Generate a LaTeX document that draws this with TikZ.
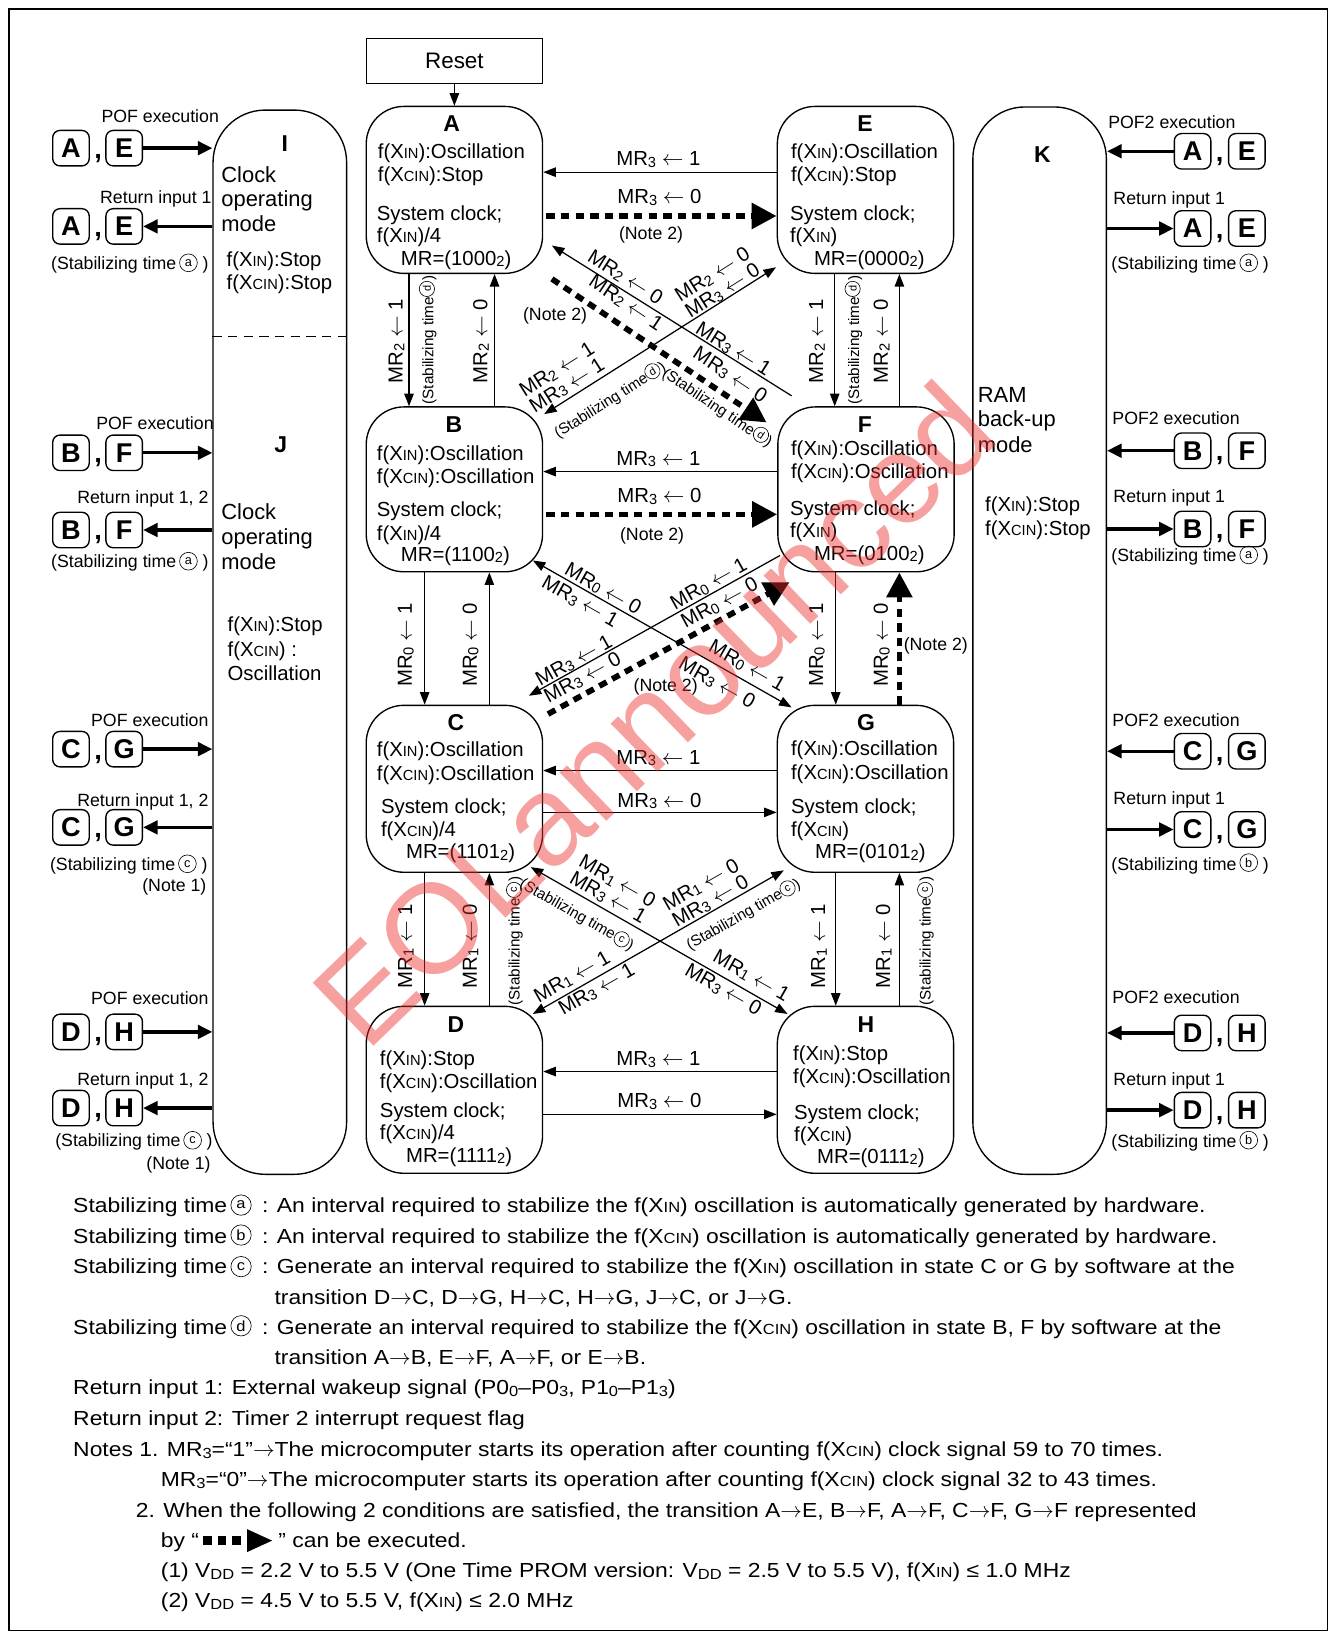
\documentclass[tikz,border=0pt]{standalone}
\usepackage{fontspec}
\setmainfont{Liberation Sans}
\newfontfamily\nfont{Liberation Sans}[FakeStretch=1.125]
\usetikzlibrary{arrows.meta}
\definecolor{wmred}{RGB}{235,45,45}
\makeatletter
\newcommand\sm[1]{{\@tempdima=\f@size pt\@tempdima=0.72\@tempdima\fontsize{\strip@pt\@tempdima}{\strip@pt\@tempdima}\selectfont #1}}
\newcommand\cir[1]{\@tempdima=\f@size pt\edef\cirsz{\the\@tempdima}\tikz[baseline={([yshift=-0.17*\cirsz]cirn.base)}]\node[reset cm,draw,solid,circle,anchor=center,inner sep=0pt,minimum size=1.0*\cirsz,line width=0.6pt,font={}](cirn){\sm{#1}};}
\makeatother
\newcommand\sbs[1]{\raisebox{-0.08em}{\sm{#1}}}
\newcommand\XIN{X\sm{IN}}
\newcommand\XCIN{X\sm{CIN}}
\newcommand\la{\ensuremath{\leftarrow}}
\newcommand\ra{\ensuremath{\rightarrow}}
\newcommand\fsz[1]{\fontsize{#1}{#1}\selectfont}
\newcommand\dashicon{\tikz[baseline=-0.33em]{\draw[solid,line width=8pt,dash pattern=on 8pt off 6pt] (0pt,0pt) -- (36pt,0pt); \fill (42pt,11pt) -- (66pt,0pt) -- (42pt,-11pt) -- cycle;}}
\newcommand\lpair[4]{%
 \node[lbox] (#1a) at (68,#2) {#3};
 \node[commast] (#1c) at (94,#2+9.5) {,};
 \node[lbox] (#1b) at (119,#2) {#4};}
\newcommand\rpair[4]{%
 \node[lbox] (#1a) at (1143,#2) {#3};
 \node[commast] (#1c) at (1169,#2+9.5) {,};
 \node[lbox] (#1b) at (1195,#2) {#4};}
\begin{document}
\begin{tikzpicture}[x=1pt,y=-1pt,font=\fsz{19.5},
 stbox/.style={draw,rounded corners=36pt,minimum width=169pt,minimum height=160pt,line width=1.3pt,inner sep=0pt},
 modebox/.style={draw,rounded corners=50pt,minimum width=128pt,line width=1.3pt,inner sep=0pt},
 head/.style={font=\bfseries\fsz{22},inner sep=0pt},
 txt/.style={anchor=base west,inner sep=0pt},
 txtr/.style={anchor=base east,inner sep=0pt},
 note/.style={anchor=base west,inner sep=0pt,font=\nfont\fsz{19.5}},
 sidef/.style={font=\fsz{17}},
 bigf/.style={font=\fsz{21}},
 arr/.style={line width=1.2pt,-{Triangle[length=12pt,width=9pt]}},
 arrb/.style={line width=1.2pt,{Triangle[length=12pt,width=9pt]}-{Triangle[length=12pt,width=9pt]}},
 darr/.style={line width=5.5pt,dash pattern=on 8pt off 6pt,-{Triangle[length=24pt,width=24pt]}},
 sarr/.style={line width=3.2pt,-{Triangle[length=14pt,width=13pt]}},
 lbox/.style={draw,rounded corners=7pt,minimum width=35pt,minimum height=34pt,inner sep=0pt,line width=1.3pt,font=\bfseries\fsz{26}},
 commast/.style={font=\bfseries\fsz{26},inner sep=0pt,anchor=base},
 lab/.style={inner sep=0pt},
 stk/.style={inner sep=0pt,align=left,font=\fontsize{19.5}{18}\selectfont},
 vlab/.style={inner sep=0pt,rotate=90},
 stablab/.style={inner sep=0pt,font=\fsz{14.6}},
]
\useasboundingbox (0,0) rectangle (1280,1568);
\draw[line width=1.3pt] (8.5,8.5) rectangle (1272,1563);

% ---------- mode columns ----------
\node[modebox,minimum height=1020pt] (IJ) at (268.2,615.5) {};
\draw[line width=1.2pt,dash pattern=on 9pt off 6pt] ([yshift=293pt]IJ.west) -- ([yshift=293pt]IJ.east);
\node[modebox,minimum height=1023pt] (K) at (996.4,614) {};

\node[head] (Ih) at (273,138) {I};
\node[txt,bigf] (I1) at (212,175) {Clock};
\node[txt,bigf] (I2) at (212,198) {operating};
\node[txt,bigf] (I3) at (212,222) {mode};
\node[txt] (I4) at (217,255) {f(\XIN):Stop};
\node[txt] (I5) at (217,277) {f(\XCIN):Stop};

\node[head] (Jh) at (269,426) {J};
\node[txt,bigf] (J1) at (212,498) {Clock};
\node[txt,bigf] (J2) at (212,522) {operating};
\node[txt,bigf] (J3) at (212,546) {mode};
\node[txt] (J4) at (218,605) {f(\XIN):Stop};
\node[txt] (J5) at (218,629) {f(\XCIN) :};
\node[txt] (J6) at (218,652) {Oscillation};

\node[head] (Kh) at (999,148) {K};
\node[txt,bigf] (K1) at (937,386) {RAM};
\node[txt,bigf] (K2) at (937,409) {back-up};
\node[txt,bigf] (K3) at (937,434) {mode};
\node[txt] (K4) at (944,490) {f(\XIN):Stop};
\node[txt] (K5) at (944,513) {f(\XCIN):Stop};

% ---------- state boxes ----------
\node[draw,line width=1.3pt,minimum width=169pt,minimum height=43pt,inner sep=0pt,font=\fsz{21.5}] (reset) at (435.5,58.5) {Reset};
\node[stbox] (A) at (435.5,182) {};
\node[stbox] (E) at (829.5,182) {};
\node[stbox,minimum height=158pt] (B) at (435.5,469) {};
\node[stbox,minimum height=158pt] (F) at (830,469) {};
\node[stbox] (C) at (435.5,756) {};
\node[stbox] (G) at (829.5,756) {};
\node[stbox] (D) at (435.5,1044.5) {};
\node[stbox] (H) at (829.5,1044.5) {};
\draw[arr] (reset) -- (A);

\node[head] (Ah) at (433,118) {A};
\node[txt] (A1) at (362,152) {f(\XIN):Oscillation};
\node[txt] (A2) at (362,174) {f(\XCIN):Stop};
\node[txt] (A3) at (361,211) {System clock;};
\node[txt] (A4) at (361,232) {f(\XIN)/4};
\node[txt] (A5) at (384,254) {MR=(1000\sbs{2})};

\node[head] (Eh) at (829,118) {E};
\node[txt] (E1) at (758,152) {f(\XIN):Oscillation};
\node[txt] (E2) at (758,174) {f(\XCIN):Stop};
\node[txt] (E3) at (757,211) {System clock;};
\node[txt] (E4) at (757,232) {f(\XIN)};
\node[txt] (E5) at (780,254) {MR=(0000\sbs{2})};

\node[head] (Bh) at (435,407) {B};
\node[txt] (B1) at (361,441) {f(\XIN):Oscillation};
\node[txt] (B2) at (361,463) {f(\XCIN):Oscillation};
\node[txt] (B3) at (361,495) {System clock;};
\node[txt] (B4) at (361,518) {f(\XIN)/4};
\node[txt] (B5) at (384,538) {MR=(1100\sbs{2})};

\node[head] (Fh) at (829,407) {F};
\node[txt] (F1) at (758,437) {f(\XIN):Oscillation};
\node[txt] (F2) at (758,459) {f(\XCIN):Oscillation};
\node[txt] (F3) at (757,494) {System clock;};
\node[txt] (F4) at (757,515) {f(\XIN)};
\node[txt] (F5) at (780,537) {MR=(0100\sbs{2})};

\node[head] (Ch) at (437,693) {C};
\node[txt] (C1) at (361,725) {f(\XIN):Oscillation};
\node[txt] (C2) at (361,748) {f(\XCIN):Oscillation};
\node[txt] (C3) at (365,780) {System clock;};
\node[txt] (C4) at (365,802) {f(\XCIN)/4};
\node[txt] (C5) at (389,823) {MR=(1101\sbs{2})};

\node[head] (Gh) at (830,693) {G};
\node[txt] (G1) at (758,724) {f(\XIN):Oscillation};
\node[txt] (G2) at (758,747) {f(\XCIN):Oscillation};
\node[txt] (G3) at (758,780) {System clock;};
\node[txt] (G4) at (758,802) {f(\XCIN)};
\node[txt] (G5) at (781,823) {MR=(0101\sbs{2})};

\node[head] (Dh) at (437,982) {D};
\node[txt] (D1) at (364,1021) {f(\XIN):Stop};
\node[txt] (D2) at (364,1043) {f(\XCIN):Oscillation};
\node[txt] (D3) at (364,1071) {System clock;};
\node[txt] (D4) at (364,1092) {f(\XCIN)/4};
\node[txt] (D5) at (389,1114) {MR=(1111\sbs{2})};

\node[head] (Hh) at (830,982) {H};
\node[txt] (H1) at (760,1016) {f(\XIN):Stop};
\node[txt] (H2) at (760,1038) {f(\XCIN):Oscillation};
\node[txt] (H3) at (761,1073) {System clock;};
\node[txt] (H4) at (761,1094) {f(\XCIN)};
\node[txt] (H5) at (783,1115) {MR=(0111\sbs{2})};

% ---------- horizontal connectors ----------
\draw[arr] ([yshift=17pt]E.west) -- ([yshift=17pt]A.east);
\draw[darr] ([xshift=3pt,yshift=-25pt]A.east) -- ([yshift=-25pt]E.west);
\draw[arr] ([yshift=17pt]F.west) -- ([yshift=17pt]B.east);
\draw[darr] ([xshift=3pt,yshift=-24pt]B.east) -- ([yshift=-24pt]F.west);
\draw[arr] ([yshift=17.5pt]G.west) -- ([yshift=17.5pt]C.east);
\draw[arr] ([yshift=-22.6pt]C.east) -- ([yshift=-22.6pt]G.west);
\draw[arr] ([yshift=17.5pt]H.west) -- ([yshift=17.5pt]D.east);
\draw[arr] ([yshift=-23.5pt]D.east) -- ([yshift=-23.5pt]H.west);

\node[lab] (h1) at (631,153) {MR\sbs3 \la\ 1};
\node[lab] (h2) at (632,189) {MR\sbs3 \la\ 0};
\node[lab,sidef] (h3) at (624,225) {(Note 2)};
\node[lab] (h4) at (631,440) {MR\sbs3 \la\ 1};
\node[lab] (h5) at (632,476) {MR\sbs3 \la\ 0};
\node[lab,sidef] (h6) at (625,514) {(Note 2)};
\node[lab] (h7) at (631,726.5) {MR\sbs3 \la\ 1};
\node[lab] (h8) at (632,767.5) {MR\sbs3 \la\ 0};
\node[lab] (h9) at (631,1015.5) {MR\sbs3 \la\ 1};
\node[lab] (h10) at (632,1055.5) {MR\sbs3 \la\ 0};

% ---------- vertical connectors ----------
\draw[arr] ([xshift=-43.5pt]A.south) -- ([xshift=-43.5pt]B.north);
\draw[arr] ([xshift=38.5pt]B.north) -- ([xshift=38.5pt]A.south);
\draw[arr] ([xshift=-29.5pt]E.south) -- ([xshift=-30pt]F.north);
\draw[arr] ([xshift=32pt]F.north) -- ([xshift=32.5pt]E.south);
\draw[arr] ([xshift=-28.5pt]B.south) -- ([xshift=-28.5pt]C.north);
\draw[arr] ([xshift=33.5pt]C.north) -- ([xshift=33.5pt]B.south);
\draw[arr] ([xshift=-29pt]F.south) -- ([xshift=-28.5pt]G.north);
\draw[darr] ([xshift=32.5pt]G.north) -- ([xshift=32pt]F.south);
\draw[arr] ([xshift=-28.5pt]C.south) -- ([xshift=-28.5pt]D.north);
\draw[arr] ([xshift=33.5pt]D.north) -- ([xshift=33.5pt]C.south);
\draw[arr] ([xshift=-28.5pt]G.south) -- ([xshift=-28.5pt]H.north);
\draw[arr] ([xshift=32.5pt]H.north) -- ([xshift=32.5pt]G.south);

\node[vlab] (v1) at (380,327) {MR\sbs2 \la\ 1};
\node[vlab,stablab] (v2) at (410,326) {(Stabilizing time\cir{d})};
\node[vlab] (v3) at (461,327) {MR\sbs2 \la\ 0};
\node[vlab] (v4) at (783,327) {MR\sbs2 \la\ 1};
\node[vlab,stablab] (v5) at (818,326) {(Stabilizing time\cir{d})};
\node[vlab] (v6) at (845,327) {MR\sbs2 \la\ 0};
\node[vlab] (v7) at (389,618) {MR\sbs0 \la\ 1};
\node[vlab] (v8) at (451,618) {MR\sbs0 \la\ 0};
\node[vlab] (v9) at (783,618) {MR\sbs0 \la\ 1};
\node[vlab] (v10) at (845,618) {MR\sbs0 \la\ 0};
\node[txt,sidef] (v11) at (866,623) {(Note 2)};
\node[vlab] (v12) at (389,907) {MR\sbs1 \la\ 1};
\node[vlab] (v13) at (451,907) {MR\sbs1 \la\ 0};
\node[vlab,stablab] (v14) at (493,902) {(Stabilizing time\cir{c})};
\node[vlab] (v15) at (785,907) {MR\sbs1 \la\ 1};
\node[vlab] (v16) at (847,907) {MR\sbs1 \la\ 0};
\node[vlab,stablab] (v17) at (887,902) {(Stabilizing time\cir{c})};

% ---------- diagonal connectors ----------
% E <-> B
\draw[arrb] ([xshift=-0.6pt,yshift=6.5pt]E.south west) -- ([xshift=0.9pt,yshift=-7.6pt]B.north east)
  node[stk,sloped,pos=0.21,above=0pt] (dEB1) {MR\sbs2 \la\ 0\\MR\sbs3 \la\ 0}
  node[stk,sloped,pos=0.874,above=3pt] (dEB2) {MR\sbs2 \la\ 1\\MR\sbs3 \la\ 1}
  node[stablab,sloped,pos=0.77,below=13pt] (dEB3) {(Stabilizing time\cir{d})};
% F -> A
\draw[arr] ([xshift=13.8pt,yshift=10pt]F.north west) -- ([xshift=8.3pt,yshift=27.3pt]A.south east)
  node[lab,sloped,pos=0.72,above=3pt] (dFA1) {MR\sbs2 \la\ 0}
  node[lab,sloped,pos=0.262,above=0pt] (dFA2) {MR\sbs3 \la\ 1};
% A -> F (dashed)
\draw[darr] ([xshift=8.3pt,yshift=-4.7pt]A.south east) -- ([xshift=-10.1pt,yshift=-15.6pt]F.north west)
  node[lab,sloped,pos=0.29,above=10pt] (dAF1) {MR\sbs2 \la\ 1}
  node[lab,sloped,pos=0.78,above=8pt] (dAF2) {MR\sbs3 \la\ 0}
  node[stablab,sloped,pos=0.81,below=5pt] (dAF3) {(Stabilizing time\cir{d})};
\node[lab,sidef] (n2a) at (532,303) {(Note 2)};
% B <-> G
\draw[arrb] ([xshift=-10pt,yshift=11.5pt]B.south east) -- ([xshift=14.3pt,yshift=-2.6pt]G.north west)
  node[lab,sloped,pos=0.253,above=1pt] (dBG1) {MR\sbs0 \la\ 0}
  node[lab,sloped,pos=0.206,below=4pt] (dBG2) {MR\sbs3 \la\ 1}
  node[lab,sloped,pos=0.801,above=5pt] (dBG3) {MR\sbs0 \la\ 1}
  node[lab,sloped,pos=0.742,below=7pt] (dBG4) {MR\sbs3 \la\ 0};
% F -> C
\draw[arr] ([xshift=2.8pt,yshift=16.3pt]F.south west) -- ([xshift=-13.8pt,yshift=8.5pt]C.north east)
  node[lab,sloped,pos=0.265,above=1pt] (dFC1) {MR\sbs0 \la\ 1}
  node[lab,sloped,pos=0.803,above=0pt] (dFC2) {MR\sbs3 \la\ 1};
% C -> F (dashed)
\draw[darr] ([xshift=4.6pt,yshift=-9pt]C.north east) -- ([xshift=11.9pt,yshift=-9.3pt]F.south west)
  node[lab,sloped,pos=0.74,above=4pt] (dCF1) {MR\sbs0 \la\ 0}
  node[lab,sloped,pos=0.173,above=4pt] (dCF2) {MR\sbs3 \la\ 0};
\node[lab,sidef] (n2b) at (638,658) {(Note 2)};
% C <-> H
\draw[arrb] ([xshift=-12pt,yshift=5.6pt]C.south east) -- ([xshift=10.5pt,yshift=-8pt]H.north west)
  node[stk,sloped,pos=0.278,above=3pt] (dCH1) {MR\sbs1 \la\ 0\\MR\sbs3 \la\ 1}
  node[stablab,sloped,pos=0.215,below=9pt] (dCH2) {(Stabilizing time\cir{c})}
  node[lab,sloped,pos=0.83,above=6pt] (dCH3) {MR\sbs1 \la\ 1}
  node[lab,sloped,pos=0.77,below=2pt] (dCH4) {MR\sbs3 \la\ 0};
% G <-> D
\draw[arrb] ([xshift=6.9pt,yshift=2.5pt]G.south west) -- ([xshift=-10pt,yshift=-8pt]D.north east)
  node[stk,sloped,pos=0.273,above=1pt] (dGD1) {MR\sbs1 \la\ 0\\MR\sbs3 \la\ 0}
  node[stablab,sloped,pos=0.197,below=9pt] (dGD2) {(Stabilizing time\cir{c})}
  node[lab,sloped,pos=0.818,above=4pt] (dGD3) {MR\sbs1 \la\ 1}
  node[lab,sloped,pos=0.766,below=2pt] (dGD4) {MR\sbs3 \la\ 1};

% ---------- left side (I/J) ----------
\node[txtr,sidef] (lt1) at (210,117) {POF execution};
\lpair{lp1}{142}{A}{E}
\draw[sarr] (lp1b.east) -- (IJ.west |- lp1b.east);
\node[txtr,sidef] (lt2) at (203,195) {Return input 1};
\lpair{lp2}{217}{A}{E}
\draw[sarr] (IJ.west |- lp2b.east) -- (lp2b.east);
\node[txtr,sidef] (lt3) at (200,258) {(Stabilizing time\,\cir{a} )};

\node[txtr,sidef] (lt4) at (205,412) {POF execution};
\lpair{lp3}{434}{B}{F}
\draw[sarr] (lp3b.east) -- (IJ.west |- lp3b.east);
\node[txtr,sidef] (lt5) at (200,483) {Return input 1, 2};
\lpair{lp4}{508}{B}{F}
\draw[sarr] (IJ.west |- lp4b.east) -- (lp4b.east);
\node[txtr,sidef] (lt6) at (200,544) {(Stabilizing time\,\cir{a} )};

\node[txtr,sidef] (lt7) at (200,696) {POF execution};
\lpair{lp5}{718}{C}{G}
\draw[sarr] (lp5b.east) -- (IJ.west |- lp5b.east);
\node[txtr,sidef] (lt8) at (200,773) {Return input 1, 2};
\lpair{lp6}{793}{C}{G}
\draw[sarr] (IJ.west |- lp6b.east) -- (lp6b.east);
\node[txtr,sidef] (lt9) at (199,834) {(Stabilizing time\,\cir{c} )};
\node[txtr,sidef] (lt10) at (198,854) {(Note 1)};

\node[txtr,sidef] (lt11) at (200,963) {POF execution};
\lpair{lp7}{989}{D}{H}
\draw[sarr] (lp7b.east) -- (IJ.west |- lp7b.east);
\node[txtr,sidef] (lt12) at (200,1040) {Return input 1, 2};
\lpair{lp8}{1062}{D}{H}
\draw[sarr] (IJ.west |- lp8b.east) -- (lp8b.east);
\node[txtr,sidef] (lt13) at (204,1099) {(Stabilizing time\,\cir{c} )};
\node[txtr,sidef] (lt14) at (202,1121) {(Note 1)};

% ---------- right side (K) ----------
\node[txt,sidef] (rt1) at (1062,123) {POF2 execution};
\rpair{rp1}{145}{A}{E}
\draw[sarr] (rp1a.west) -- (K.east |- rp1a.west);
\node[txt,sidef] (rt2) at (1067,196) {Return input 1};
\rpair{rp2}{219}{A}{E}
\draw[sarr] (K.east |- rp2a.west) -- (rp2a.west);
\node[txt,sidef] (rt3) at (1065,258) {(Stabilizing time\,\cir{a} )};

\node[txt,sidef] (rt4) at (1066,407) {POF2 execution};
\rpair{rp3}{432}{B}{F}
\draw[sarr] (rp3a.west) -- (K.east |- rp3a.west);
\node[txt,sidef] (rt5) at (1067,482) {Return input 1};
\rpair{rp4}{507}{B}{F}
\draw[sarr] (K.east |- rp4a.west) -- (rp4a.west);
\node[txt,sidef] (rt6) at (1065,538) {(Stabilizing time\,\cir{a} )};

\node[txt,sidef] (rt7) at (1066,696) {POF2 execution};
\rpair{rp5}{720}{C}{G}
\draw[sarr] (rp5a.west) -- (K.east |- rp5a.west);
\node[txt,sidef] (rt8) at (1067,771) {Return input 1};
\rpair{rp6}{795}{C}{G}
\draw[sarr] (K.east |- rp6a.west) -- (rp6a.west);
\node[txt,sidef] (rt9) at (1065,834) {(Stabilizing time\,\cir{b} )};

\node[txt,sidef] (rt10) at (1066,962) {POF2 execution};
\rpair{rp7}{990}{D}{H}
\draw[sarr] (rp7a.west) -- (K.east |- rp7a.west);
\node[txt,sidef] (rt11) at (1067,1040) {Return input 1};
\rpair{rp8}{1064}{D}{H}
\draw[sarr] (K.east |- rp8a.west) -- (rp8a.west);
\node[txt,sidef] (rt12) at (1065,1100) {(Stabilizing time\,\cir{b} )};

% ---------- notes ----------
\node[note] (nA) at (70,1162) {Stabilizing time\,\cir{a}};
\node[note] (nA2) at (251,1162) {: An interval required to stabilize the f(\XIN) oscillation is automatically generated by hardware.};
\node[note] (nB) at (70,1192) {Stabilizing time\,\cir{b}};
\node[note] (nB2) at (251,1192) {: An interval required to stabilize the f(\XCIN) oscillation is automatically generated by hardware.};
\node[note] (nC) at (70,1221) {Stabilizing time\,\cir{c}};
\node[note] (nC2) at (251,1221) {: Generate an interval required to stabilize the f(\XIN) oscillation in state C or G by software at the};
\node[note] (nC3) at (263,1250) {transition D\ra C, D\ra G, H\ra C, H\ra G, J\ra C, or J\ra G.};
\node[note] (nD) at (70,1279) {Stabilizing time\,\cir{d}};
\node[note] (nD2) at (251,1279) {: Generate an interval required to stabilize the f(\XCIN) oscillation in state B, F by software at the};
\node[note] (nD3) at (263,1308) {transition A\ra B, E\ra F, A\ra F, or E\ra B.};
\node[note] (nR1) at (70,1337) {Return input 1: External wakeup signal (P0\sbs0–P0\sbs3, P1\sbs0–P1\sbs3)};
\node[note] (nR2) at (70,1366) {Return input 2: Timer 2 interrupt request flag};
\node[note] (nN1) at (70,1396) {Notes 1. MR\sbs3=“1”\ra The microcomputer starts its operation after counting f(\XCIN) clock signal 59 to 70 times.};
\node[note] (nN1b) at (154,1425) {MR\sbs3=“0”\ra The microcomputer starts its operation after counting f(\XCIN) clock signal 32 to 43 times.};
\node[note] (nN2) at (130,1454) {2. When the following 2 conditions are satisfied, the transition A\ra E, B\ra F, A\ra F, C\ra F, G\ra F represented};
\node[note] (nN2b) at (154,1483) {by “\dashicon\ ” can be executed.};
\node[note] (nN3) at (154,1512) {(1) V\sbs{DD} = 2.2 V to 5.5 V (One Time PROM version: V\sbs{DD} = 2.5 V to 5.5 V), f(\XIN) ≤ 1.0 MHz};
\node[note] (nN4) at (154,1541) {(2) V\sbs{DD} = 4.5 V to 5.5 V, f(\XIN) ≤ 2.0 MHz};

% ---------- watermark ----------
\node[rotate=44,text=wmred,opacity=0.45,font=\fsz{122},inner sep=0pt] (wm) at (626,684) {EOLannounced};
\end{tikzpicture}
\end{document}
